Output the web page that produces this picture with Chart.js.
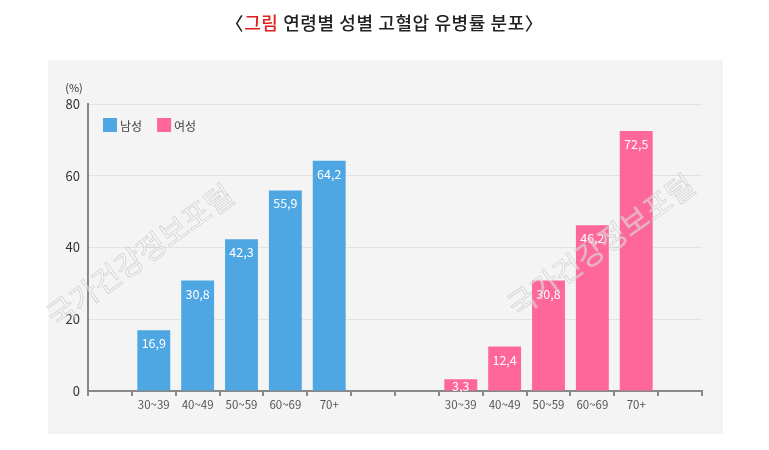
<!DOCTYPE html>
<html>
<head>
<meta charset="utf-8">
<script src="https://cdn.jsdelivr.net/npm/chart.js@4"></script>
<style>
  html, body { margin: 0; padding: 0; background: #fff; }
  #wrap { position: relative; width: 769px; height: 450px; }
  #title {
    position: absolute; left: 0; top: 9px; width: 769px; text-align: center;
    font-family: "Noto Sans CJK KR", "Noto Sans", sans-serif; font-size: 18px;
    font-weight: 500; color: #222; letter-spacing: 0.6px;
  }
  #title .red { color: #e0201c; }
  canvas { position: absolute; left: 0; top: 0; }
</style>
</head>
<body>
<div id="wrap">
  <canvas id="chart" width="769" height="450"></canvas>
  <div id="title">〈<span class="red">그림</span> 연령별 성별 고혈압 유병률 분포〉</div>
</div>
<script>
const ageGroups = ['30~39', '40~49', '50~59', '60~69', '70+'];
const maleValues = [16.9, 30.8, 42.3, 55.9, 64.2];
const femaleValues = [3.3, 12.4, 30.8, 46.2, 72.5];
const seriesNames = ['남성', '여성'];
const yTicks = [0, 20, 40, 60, 80];

const blue = '#4ea7e2';
const pink = '#ff6699';
const font = '"Noto Sans CJK KR", "Noto Sans", sans-serif';

// one empty slot before, two between and one after the groups
const labels = [''].concat(ageGroups, ['', ''], ageGroups, ['']);
const pad = n => new Array(n).fill(null);
const maleData = pad(1).concat(maleValues, pad(2 + ageGroups.length + 1));
const femaleData = pad(1 + ageGroups.length + 2).concat(femaleValues, pad(1));

const panelPlugin = {
    id: 'panel',
    beforeDraw(chart) {
        const ctx = chart.ctx;
        ctx.save();
        ctx.fillStyle = '#f4f4f4';
        ctx.fillRect(48, 60, 675, 374);
        ctx.restore();
    }
};

const extrasPlugin = {
    id: 'extras',
    afterDatasetsDraw(chart) {
        const ctx = chart.ctx;
        const area = chart.chartArea;
        ctx.save();
        // value labels inside bar tops
        ctx.fillStyle = '#fff';
        ctx.font = '12.5px ' + font;
        ctx.textAlign = 'center';
        ctx.textBaseline = 'top';
        chart.data.datasets.forEach((ds, di) => {
            chart.getDatasetMeta(di).data.forEach((bar, i) => {
                const v = ds.data[i];
                if (v == null) return;
                const y = v < 6 ? bar.y + 1 : bar.y + 7;
                ctx.fillText(v.toFixed(1).replace('.', ','), bar.x, y);
            });
        });

        // unit label
        ctx.fillStyle = '#333';
        ctx.font = '11px ' + font;
        ctx.textBaseline = 'alphabetic';
        ctx.fillText('(%)', area.left - 14, area.top - 12);

        // legend
        const items = [[seriesNames[0], blue], [seriesNames[1], pink]];
        let x = area.left + 15;
        const y = area.top + 21;
        ctx.textAlign = 'left';
        ctx.textBaseline = 'middle';
        ctx.font = '12px ' + font;
        items.forEach(([name, color]) => {
            ctx.fillStyle = color;
            ctx.fillRect(x, y - 7, 14, 14);
            ctx.fillStyle = '#444';
            ctx.fillText(name, x + 17, y + 1);
            x += 17 + ctx.measureText(name).width + 15;
        });

        // watermark
        ctx.font = '30px ' + font;
        ctx.textAlign = 'center';
        ctx.lineWidth = 0.8;
        ctx.strokeStyle = 'rgba(185,185,185,0.6)';
        ctx.fillStyle = 'rgba(255,255,255,0.45)';
        [[140, 255], [601, 245]].forEach(([cx, cy]) => {
            ctx.save();
            ctx.translate(cx, cy);
            ctx.rotate(-0.62);
            ctx.fillText('국가건강정보포털', 0, 0);
            ctx.strokeText('국가건강정보포털', 0, 0);
            ctx.restore();
        });
        ctx.restore();
    }
};

new Chart(document.getElementById('chart'), {
    type: 'bar',
    data: {
        labels: labels,
        datasets: [
            { label: seriesNames[0], data: maleData, backgroundColor: blue },
            { label: seriesNames[1], data: femaleData, backgroundColor: pink }
        ]
    },
    options: {
        responsive: false,
        animation: false,
        grouped: false,
        barPercentage: 0.75,
        categoryPercentage: 1,
        layout: { padding: { left: 48, right: 67, top: 104, bottom: 0 } },
        plugins: {
            legend: { display: false },
            tooltip: { enabled: false }
        },
        scales: {
            x: {
                offset: true,
                afterFit: s => { s.height = 59; },
                grid: {
                    offset: true,
                    drawOnChartArea: false,
                    drawTicks: true,
                    tickLength: 5,
                    color: '#888',
                    lineWidth: 2
                },
                border: { color: '#888', width: 2 },
                ticks: {
                    autoSkip: false,
                    maxRotation: 0,
                    padding: 2,
                    color: '#555',
                    font: { family: font, size: 11.5 }
                }
            },
            y: {
                min: 0,
                max: 80,
                afterFit: s => { s.width = 40; },
                afterBuildTicks: s => { s.ticks = yTicks.map(v => ({ value: v })); },
                grid: { color: '#e2e2e2', drawTicks: false },
                border: { color: '#888', width: 2 },
                ticks: {
                    padding: 8,
                    color: '#333',
                    font: { family: font, size: 13 }
                }
            }
        }
    },
    plugins: [panelPlugin, extrasPlugin]
});
</script>
</body>
</html>
